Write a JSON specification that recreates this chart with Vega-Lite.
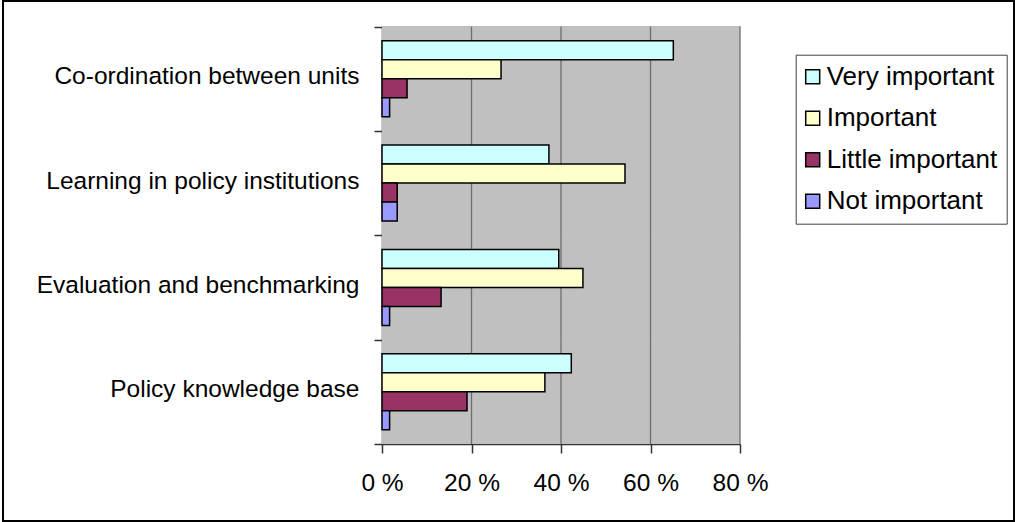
{
  "$schema": "https://vega.github.io/schema/vega-lite/v6.json",
  "width": 1011,
  "height": 520,
  "autosize": "none",
  "padding": {"left": 3, "top": 1, "right": 1, "bottom": 1},
  "background": "white",
  "datasets": {
    "survey": [
      {"area": "Co-ordination between units", "rating": "Very important", "share": 65.1},
      {"area": "Co-ordination between units", "rating": "Important", "share": 26.6},
      {"area": "Co-ordination between units", "rating": "Little important", "share": 5.6},
      {"area": "Co-ordination between units", "rating": "Not important", "share": 1.7},
      {"area": "Learning in policy institutions", "rating": "Very important", "share": 37.3},
      {"area": "Learning in policy institutions", "rating": "Important", "share": 54.3},
      {"area": "Learning in policy institutions", "rating": "Little important", "share": 3.4},
      {"area": "Learning in policy institutions", "rating": "Not important", "share": 3.4},
      {"area": "Evaluation and benchmarking", "rating": "Very important", "share": 39.5},
      {"area": "Evaluation and benchmarking", "rating": "Important", "share": 44.9},
      {"area": "Evaluation and benchmarking", "rating": "Little important", "share": 13.2},
      {"area": "Evaluation and benchmarking", "rating": "Not important", "share": 1.7},
      {"area": "Policy knowledge base", "rating": "Very important", "share": 42.3},
      {"area": "Policy knowledge base", "rating": "Important", "share": 36.4},
      {"area": "Policy knowledge base", "rating": "Little important", "share": 19.0},
      {"area": "Policy knowledge base", "rating": "Not important", "share": 1.7}
    ],
    "grid": [
      {"area": "Co-ordination between units", "pct": 20},
      {"area": "Co-ordination between units", "pct": 40},
      {"area": "Co-ordination between units", "pct": 60},
      {"area": "Co-ordination between units", "pct": 80},
      {"area": "Learning in policy institutions", "pct": 20},
      {"area": "Learning in policy institutions", "pct": 40},
      {"area": "Learning in policy institutions", "pct": 60},
      {"area": "Learning in policy institutions", "pct": 80},
      {"area": "Evaluation and benchmarking", "pct": 20},
      {"area": "Evaluation and benchmarking", "pct": 40},
      {"area": "Evaluation and benchmarking", "pct": 60},
      {"area": "Evaluation and benchmarking", "pct": 80},
      {"area": "Policy knowledge base", "pct": 20},
      {"area": "Policy knowledge base", "pct": 40},
      {"area": "Policy knowledge base", "pct": 60},
      {"area": "Policy knowledge base", "pct": 80}
    ]
  },
  "resolve": {"axis": {"x": "independent"}},
  "layer": [
    {
      "data": {"name": "grid"},
      "mark": {"type": "rect", "fill": "#C0C0C0"},
      "encoding": {
        "x": {
          "datum": 0,
          "type": "quantitative",
          "scale": {"domain": [0, 80], "range": [379, 737], "nice": false, "zero": true},
          "axis": {"orient": "top", "offset": -25.5, "labels": false, "ticks": false, "domainColor": "#808080", "domainWidth": 1.5, "title": null}
        },
        "x2": {"datum": 80},
        "y": {
          "field": "area",
          "type": "nominal",
          "scale": {
            "domain": ["Co-ordination between units", "Learning in policy institutions", "Evaluation and benchmarking", "Policy knowledge base"],
            "range": [25.5, 443],
            "paddingInner": 0,
            "paddingOuter": 0
          },
          "axis": {"offset": -379, "title": null}
        }
      }
    },
    {
      "data": {"name": "grid"},
      "mark": {"type": "rect", "filled": false, "stroke": "#6e6e6e", "strokeWidth": 1.3},
      "encoding": {
        "x": {
          "field": "pct",
          "type": "quantitative",
          "scale": {"domain": [0, 80], "range": [379, 737], "nice": false, "zero": true},
          "axis": null
        },
        "x2": {"field": "pct"},
        "y": {
          "field": "area",
          "type": "nominal",
          "scale": {
            "domain": ["Co-ordination between units", "Learning in policy institutions", "Evaluation and benchmarking", "Policy knowledge base"],
            "range": [25.5, 443],
            "paddingInner": 0,
            "paddingOuter": 0
          },
          "axis": {"offset": -379, "title": null}
        }
      }
    },
    {
      "data": {"name": "survey"},
      "mark": {"type": "bar", "stroke": "black", "strokeWidth": 1.5},
      "encoding": {
        "x": {
          "field": "share",
          "type": "quantitative",
          "scale": {"domain": [0, 80], "range": [379, 737], "nice": false, "zero": true},
          "axis": {
            "orient": "bottom",
            "offset": -77,
            "values": [0, 20, 40, 60, 80],
            "labelExpr": "datum.value + ' %'",
            "labelFlush": false,
            "labelAlign": "center",
            "title": null
          }
        },
        "y": {
          "field": "area",
          "type": "nominal",
          "scale": {
            "domain": ["Co-ordination between units", "Learning in policy institutions", "Evaluation and benchmarking", "Policy knowledge base"],
            "range": [25.5, 443],
            "paddingInner": 0,
            "paddingOuter": 0
          },
          "axis": {"offset": -379, "title": null}
        },
        "yOffset": {
          "field": "rating",
          "type": "nominal",
          "scale": {
            "domain": ["Very important", "Important", "Little important", "Not important"],
            "paddingInner": 0,
            "paddingOuter": 0.75
          }
        },
        "color": {
          "field": "rating",
          "type": "nominal",
          "scale": {
            "domain": ["Very important", "Important", "Little important", "Not important"],
            "range": ["#CCFFFF", "#FFFFCC", "#993366", "#9999FF"]
          },
          "legend": {
            "orient": "none",
            "legendX": 792.7,
            "legendY": 53.7,
            "title": null,
            "symbolType": "square",
            "symbolSize": 196,
            "symbolStrokeColor": "black",
            "symbolOpacity": 1,
            "symbolOffset": -5,
            "labelFont": "Liberation Sans",
            "labelFontSize": 26,
            "labelColor": "black",
            "labelOffset": 1,
            "labelLimit": 300,
            "rowPadding": 15.5,
            "padding": 9,
            "strokeColor": "#404040"
          }
        }
      }
    }
  ],
  "config": {
    "font": "Liberation Sans",
    "view": {"stroke": "black", "strokeWidth": 2, "fill": "white"},
    "axis": {
      "zindex": 1,
      "grid": false,
      "labelFont": "Liberation Sans",
      "labelColor": "black",
      "domainColor": "#333333",
      "domainWidth": 1.5,
      "tickColor": "#333333",
      "tickWidth": 1.5
    },
    "axisY": {
      "labelFontSize": 24.5,
      "tickSize": 8,
      "labelPadding": 15,
      "labelLimit": 400,
      "labelOffset": -2,
      "tickBand": "extent"
    },
    "axisBottom": {
      "labelFontSize": 24.5,
      "tickSize": 9,
      "labelPadding": 18
    }
  }
}
